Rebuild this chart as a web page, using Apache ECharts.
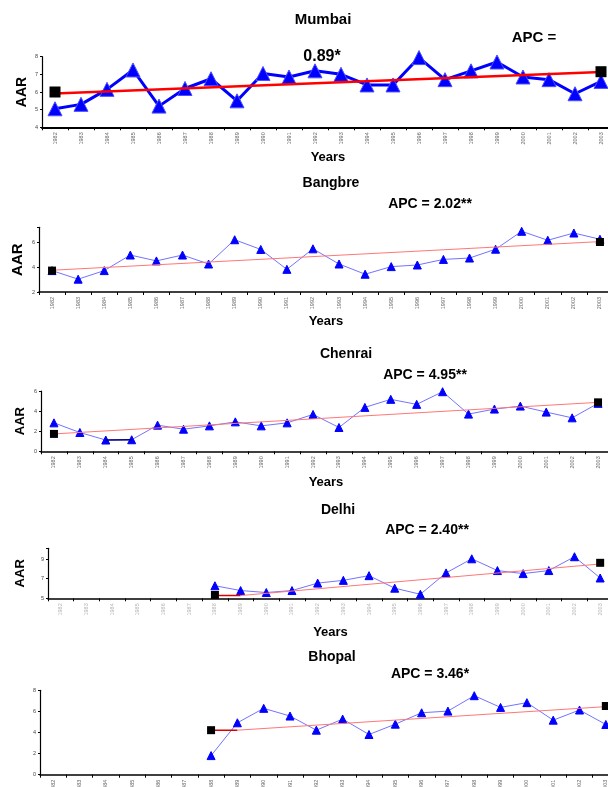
<!DOCTYPE html>
<html>
<head>
<meta charset="utf-8">
<script src="https://cdn.jsdelivr.net/npm/echarts@6/dist/echarts.min.js"></script>
<style>
    html, body { margin: 0; padding: 0; background: #fff; }
    #main { width: 608px; height: 787px; }
</style>
</head>
<body>
<div id="main"></div>
<script type="text/javascript">
    var years = ['1982', '1983', '1984', '1985', '1986', '1987', '1988', '1989', '1990', '1991', '1992',
        '1993', '1994', '1995', '1996', '1997', '1998', '1999', '2000', '2001', '2002', '2003'];

    // AAR per year
    var mumbai = [5.05, 5.3, 6.15, 7.25, 5.2, 6.2, 6.75, 5.5, 7.05, 6.85, 7.2,
        7.0, 6.4, 6.4, 7.95, 6.7, 7.2, 7.7, 6.85, 6.7, 5.9, 6.6];
    var bangalore = [3.72, 3.03, 3.72, 4.97, 4.5, 4.97, 4.25, 6.2, 5.42, 3.82, 5.47,
        4.25, 3.43, 4.04, 4.17, 4.62, 4.73, 5.44, 6.88, 6.16, 6.74, 6.24];
    var chennai = [2.83, 1.87, 1.12, 1.15, 2.6, 2.2, 2.53, 2.93, 2.53, 2.83, 3.67,
        2.37, 4.37, 5.17, 4.67, 5.93, 3.7, 4.2, 4.5, 3.9, 3.33, 4.77];
    var delhi = [null, null, null, null, null, null, 6.28, 5.79, 5.59, 5.79, 6.55,
        6.83, 7.31, 6.03, 5.41, 7.59, 9.03, 7.83, 7.52, 7.83, 9.24, 7.07];
    var bhopal = [null, null, null, null, null, null, 1.81, 4.92, 6.29, 5.56, 4.22,
        5.27, 3.81, 4.79, 5.87, 6.03, 7.49, 6.38, 6.83, 5.17, 6.13, 4.76];

    // trend lines [year, value] at both ends
    var trendMumbai = [['1982', 5.92], ['2003', 7.13]];
    var trendBangalore = [['1982', 3.75], ['2003', 6.05]];
    var trendChennai = [['1982', 1.73], ['2003', 4.87]];
    var trendDelhi = [['1989', 5.28], ['2003', 8.5]];
    var trendBhopal = [['1989', 4.22], ['2003', 6.45]];
    var startDelhi = [['1988', 5.28], ['1989', 5.28]];
    var startBhopal = [['1988', 4.22], ['1989', 4.22]];

    // black squares at the ends
    var endsMumbai = [['1982', 6.0], ['2003', 7.15]];
    var endsBangalore = [['1982', 3.72], ['2003', 6.02]];
    var endsChennai = [['1982', 1.73], ['2003', 4.87]];
    var endsDelhi = [['1988', 5.34], ['2003', 8.62]];
    var endsBhopal = [['1988', 4.22], ['2003', 6.51]];

    var font = '"Liberation Sans", Arial, sans-serif';

    var panels = [
        {left: 42, top: 56.7, width: 572, height: 70.6, min: 4, max: 8, interval: 1, aar: 14, aarGap: 13, years: 24, axisW: 2, labelColor: '#666'},
        {left: 39, top: 227.3, width: 574, height: 64.7, min: 2, max: 7.2, interval: 2, aar: 15, aarGap: 14, years: 23, axisW: 1.5, labelColor: '#666'},
        {left: 41, top: 391, width: 570, height: 60.3, min: 0, max: 6, interval: 2, aar: 13, aarGap: 14, years: 25, axisW: 1.5, labelColor: '#666'},
        {left: 48, top: 548.3, width: 565, height: 50, min: 5, max: 10.1, interval: 2, aar: 13, aarGap: 21, years: 28, axisW: 1.5, labelColor: '#b5b5b5'},
        {left: 40, top: 690.3, width: 579, height: 84.4, min: 0, max: 8, interval: 2, aar: 0, aarGap: 0, years: 0, axisW: 1.5, labelColor: '#666'}
    ];

    var grids = [], xAxes = [], yAxes = [];
    panels.forEach(function (p, i) {
        grids.push({left: p.left, top: p.top, width: p.width, height: p.height, outerBoundsMode: 'none', containLabel: false});
        xAxes.push({
            type: 'category', gridIndex: i, data: years, boundaryGap: true,
            name: p.years ? 'Years' : '', nameLocation: 'middle', nameGap: p.years, nameMoveOverlap: false,
            nameTextStyle: {fontFamily: font, fontWeight: 'bold', fontSize: 13, color: '#000'},
            axisLine: {lineStyle: {color: '#000', width: p.axisW}},
            axisTick: {show: true, length: 3, lineStyle: {color: '#000'}},
            axisLabel: {rotate: 90, fontSize: 5.5, color: p.labelColor, margin: 5, interval: 0, fontFamily: font},
            splitLine: {show: false}
        });
        yAxes.push({
            type: 'value', gridIndex: i, min: p.min, max: p.max, interval: p.interval,
            name: p.aar ? 'AAR' : '', nameLocation: 'middle', nameRotate: 90, nameGap: p.aarGap, nameMoveOverlap: false,
            nameTextStyle: {fontFamily: font, fontWeight: 'bold', fontSize: p.aar || 12, color: '#000'},
            axisLine: {show: true, lineStyle: {color: '#000', width: 1.2}},
            axisTick: {show: true, length: 2, lineStyle: {color: '#000'}},
            axisLabel: {
                fontSize: 5.5, color: '#444', margin: 4, fontFamily: font,
                formatter: function (v) { return v % 1 === 0 ? v : ''; }
            },
            splitLine: {show: false}
        });
    });

    function dataLine(i, values, bold) {
        return {
            type: 'line', xAxisIndex: i, yAxisIndex: i, data: values,
            symbol: 'triangle', symbolSize: bold ? 14 : 8, showAllSymbol: true,
            lineStyle: {color: bold ? '#0000ff' : '#7373ff', width: bold ? 3 : 1},
            itemStyle: {color: '#0000ff', borderColor: bold ? '#4d4dff' : '#0000ff', borderWidth: 1, opacity: 1},
            z: 2
        };
    }
    function trendLine(i, values, color, width) {
        return {
            type: 'line', xAxisIndex: i, yAxisIndex: i, data: values, symbol: 'none',
            lineStyle: {color: color, width: width}, z: 3
        };
    }
    function ends(i, values, size) {
        return {
            type: 'scatter', xAxisIndex: i, yAxisIndex: i, data: values,
            symbol: 'rect', symbolSize: size, itemStyle: {color: '#000', opacity: 1}, z: 4
        };
    }

    var titleStyle = {fontFamily: font, fontWeight: 'bold', fontSize: 15, color: '#000'};
    var smallStyle = {fontFamily: font, fontWeight: 'bold', fontSize: 14, color: '#000'};
    function label(text, x, y, style) {
        return {text: text, left: x, top: y, textAlign: 'center', padding: 0, textStyle: style};
    }

    var option = {
        animation: false,
        backgroundColor: '#fff',
        title: [
            label('Mumbai', 323, 12, titleStyle),
            label('APC =', 534, 30, titleStyle),
            label('0.89*', 322, 49, {fontFamily: font, fontWeight: 'bold', fontSize: 16, color: '#000'}),
            label('Bangbre', 331, 176, smallStyle),
            label('APC = 2.02**', 430, 197, smallStyle),
            label('Chenrai', 346, 347, smallStyle),
            label('APC = 4.95**', 425, 368, smallStyle),
            label('Delhi', 338, 503, smallStyle),
            label('APC = 2.40**', 427, 523, smallStyle),
            label('Bhopal', 332, 650, smallStyle),
            label('APC = 3.46*', 430, 667, smallStyle)
        ],
        grid: grids,
        xAxis: xAxes,
        yAxis: yAxes,
        series: [
            dataLine(0, mumbai, true),
            trendLine(0, trendMumbai, '#ff0000', 2.5),
            ends(0, endsMumbai, 11),

            dataLine(1, bangalore, false),
            trendLine(1, trendBangalore, '#ff7777', 1),
            ends(1, endsBangalore, 8),

            dataLine(2, chennai, false),
            trendLine(2, [['1984', chennai[2]], ['1985', chennai[3]]], '#000080', 1.5),
            trendLine(2, trendChennai, '#ff7777', 1),
            ends(2, endsChennai, 8),

            dataLine(3, delhi, false),
            trendLine(3, startDelhi, '#dd0000', 1.5),
            trendLine(3, trendDelhi, '#ff7777', 1),
            ends(3, endsDelhi, 8),

            dataLine(4, bhopal, false),
            trendLine(4, startBhopal, '#dd0000', 1.5),
            trendLine(4, trendBhopal, '#ff7777', 1),
            ends(4, endsBhopal, 8)
        ]
    };

    var myChart = echarts.init(document.getElementById('main'));
    myChart.setOption(option);
</script>
</body>
</html>
